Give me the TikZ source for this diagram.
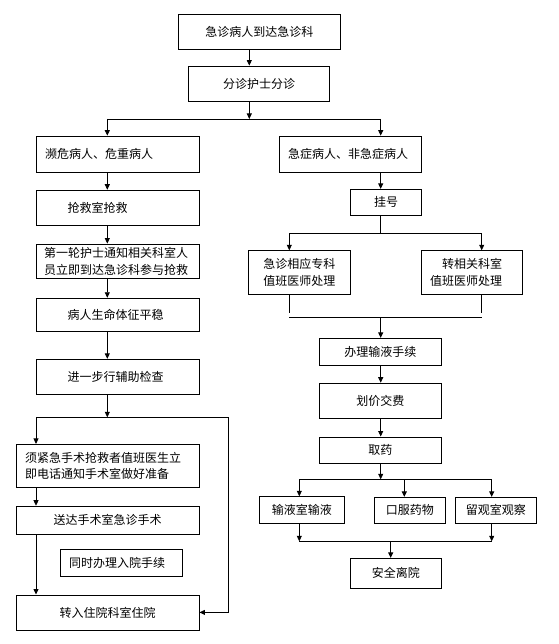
\documentclass[tikz,border=0pt]{standalone}
\usepackage{fontspec}
\newfontfamily\cjk{Noto Sans CJK SC}
\usetikzlibrary{arrows.meta,positioning}

\begin{document}
\begin{tikzpicture}[
  x=1pt, y=-1pt,
  line width=0.8pt,
  >={Triangle[length=5.5pt, width=5pt]},
  box/.style={rectangle, draw=black, inner sep=0pt, align=center,
              font=\cjk\fontsize{12pt}{16.5pt}\selectfont},
  lbox/.style={box, align=left, text width=#1},
  ar/.style={->, draw=black},
  ln/.style={draw=black},
]
\useasboundingbox (0,0) rectangle (558,644);

% ---------- top: arrival and triage ----------
\node[box, minimum width=162pt, minimum height=35pt] (arrive) at (259.3,31.8) {急诊病人到达急诊科};
\node[box, minimum width=140.6pt, minimum height=35pt] (triage) at (259,83.5) {分诊护士分诊};

% ---------- left column: critical patients ----------
\node[lbox=145pt, minimum width=163pt, minimum height=36.3pt] (crit) at (117.5,154.2) {濒危病人、危重病人};
\node[lbox=99.6pt, minimum width=163pt, minimum height=35pt, below=17pt of crit] (resc) {抢救室抢救};
\node[lbox=147pt, minimum width=163pt, minimum height=34.7pt, below=18pt of resc] (notify)
  {第一轮护士通知相关科室人\\员立即到达急诊科参与抢救};
\node[lbox=99.6pt, minimum width=163pt, minimum height=33.3pt, below=18.7pt of notify] (stable) {病人生命体征平稳};
\node[lbox=99.6pt, minimum width=163pt, minimum height=34.7pt, below=27pt of stable] (check) {进一步行辅助检查};

\node[lbox=165.3pt, minimum width=182.7pt, minimum height=43pt] (surg) at (107.7,465.8)
  {须紧急手术抢救者值班医生立\\即电话通知手术室做好准备};
\node[box, minimum width=182.7pt, minimum height=28pt, below=18pt of surg] (send) {送达手术室急诊手术};
\node[lbox=105pt, minimum width=122.4pt, minimum height=26.7pt] (admit) at (121.5,562.7) {同时办理入院手续};
\node[box, minimum width=182.7pt, minimum height=35pt, below=60pt of send] (ward) {转入住院科室住院};

% ---------- right column: emergency / non-emergency ----------
\node[lbox=125pt, minimum width=142.4pt, minimum height=36.3pt] (emerg) at (350.5,154.2) {急症病人、非急症病人};
\node[box, minimum width=71pt, minimum height=26pt] (reg) at (386.2,202.3) {挂号};
\node[box, minimum width=102pt, minimum height=43.6pt] (spec) at (299.3,272.5) {急诊相应专科\\值班医师处理};
\node[lbox=84.4pt, minimum width=101pt, minimum height=43.6pt] (dept) at (472.2,272.5)
  {\hspace*{1em}转相关科室\\值班医师处理};

\node[box, minimum width=122pt, minimum height=27pt] (infuse) at (380.3,351.8) {办理输液手续};
\node[box, minimum width=122pt, minimum height=35pt, below=17pt of infuse] (pay) {划价交费};
\node[box, minimum width=122pt, minimum height=26pt, below=18pt of pay] (drug) {取药};

\node[box, minimum width=85pt, minimum height=26.6pt] (room) at (301.8,510) {输液室输液};
\node[box, minimum width=71pt, minimum height=26pt] (oral) at (409.8,510.3) {口服药物};
\node[box, minimum width=81pt, minimum height=26pt] (obs) at (495.8,510.3) {留观室观察};
\node[box, minimum width=91pt, minimum height=30pt] (leave) at (395.8,573.3) {安全离院};

% ===== junction points =====
\coordinate (trunk) at (249.3,119);
\coordinate (lsplit) at (107.3,119);
\coordinate (rsplit) at (380.7,119);
\coordinate (ljoin) at (107.3,417.3);
\coordinate (lfork) at (36,417.3);
\coordinate (rfork) at (228.3,417.3);
\coordinate (rbranch) at (380.7,233.3);
\coordinate (specx) at (289.3,233.3);
\coordinate (deptx) at (481.7,233.3);
\coordinate (lmerge) at (289.3,317);
\coordinate (mmerge) at (380.7,317);
\coordinate (rmerge) at (481.7,317);
\coordinate (dsplit) at (380.7,479.3);
\coordinate (roomx) at (299.3,479.3);
\coordinate (oralx) at (404.3,479.3);
\coordinate (obsx) at (491.7,479.3);
\coordinate (lexit) at (299.3,541.3);
\coordinate (mexit) at (390.7,541.3);
\coordinate (rexit) at (491.7,541.3);

% ===== top edges =====
\draw[ar] (arrive.south -| trunk) -- (triage.north -| trunk);
\draw[ar] (triage.south -| trunk) -- (trunk);
\draw[ln] (lsplit) -- (rsplit);
\draw[ar] (lsplit) -- (crit.north -| lsplit);
\draw[ar] (rsplit) -- (emerg.north -| rsplit);

% ===== left chain =====
\foreach \a/\b in {crit/resc, resc/notify, notify/stable, stable/check}
  \draw[ar] (\a.south -| lsplit) -- (\b.north -| lsplit);
\draw[ar] (check.south -| ljoin) -- (ljoin);
\draw[ln] (lfork) -- (rfork);
\draw[ar] (lfork) -- (surg.north -| lfork);
\draw[ar] (surg.south -| lfork) -- (send.north -| lfork);
\draw[ar] (send.south -| lfork) -- (ward.north -| lfork);
\draw[ar] (rfork) |- (ward.east);

% ===== right chain =====
\draw[ar] (emerg.south -| rsplit) -- (reg.north -| rsplit);
\draw[ln] (reg.south -| rbranch) -- (rbranch);
\draw[ln] (specx) -- (deptx);
\draw[ar] (specx) -- (spec.north -| specx);
\draw[ar] (deptx) -- (dept.north -| deptx);
\draw[ln] (spec.south -| lmerge) -- ([yshift=4.5pt]lmerge);
\draw[ln] (dept.south -| rmerge) -- ([yshift=4.5pt]rmerge);
\draw[ln] (lmerge) -- (rmerge);
\draw[ar] (mmerge) -- (infuse.north -| mmerge);
\draw[ar] (infuse.south -| mmerge) -- (pay.north -| mmerge);
\draw[ar] (pay.south -| mmerge) -- (drug.north -| mmerge);
\draw[ar] (drug.south -| dsplit) -- (dsplit);
\draw[ln] (roomx) -- (obsx);
\draw[ar] (roomx) -- (room.north -| roomx);
\draw[ar] (oralx) -- (oral.north -| oralx);
\draw[ar] (obsx) -- (obs.north -| obsx);
\draw[ar] (room.south -| lexit) -- (lexit);
\draw[ar] (obs.south -| rexit) -- (rexit);
\draw[ln] (lexit) -- (rexit);
\draw[ar] (mexit) -- (leave.north -| mexit);

\end{tikzpicture}
\end{document}
